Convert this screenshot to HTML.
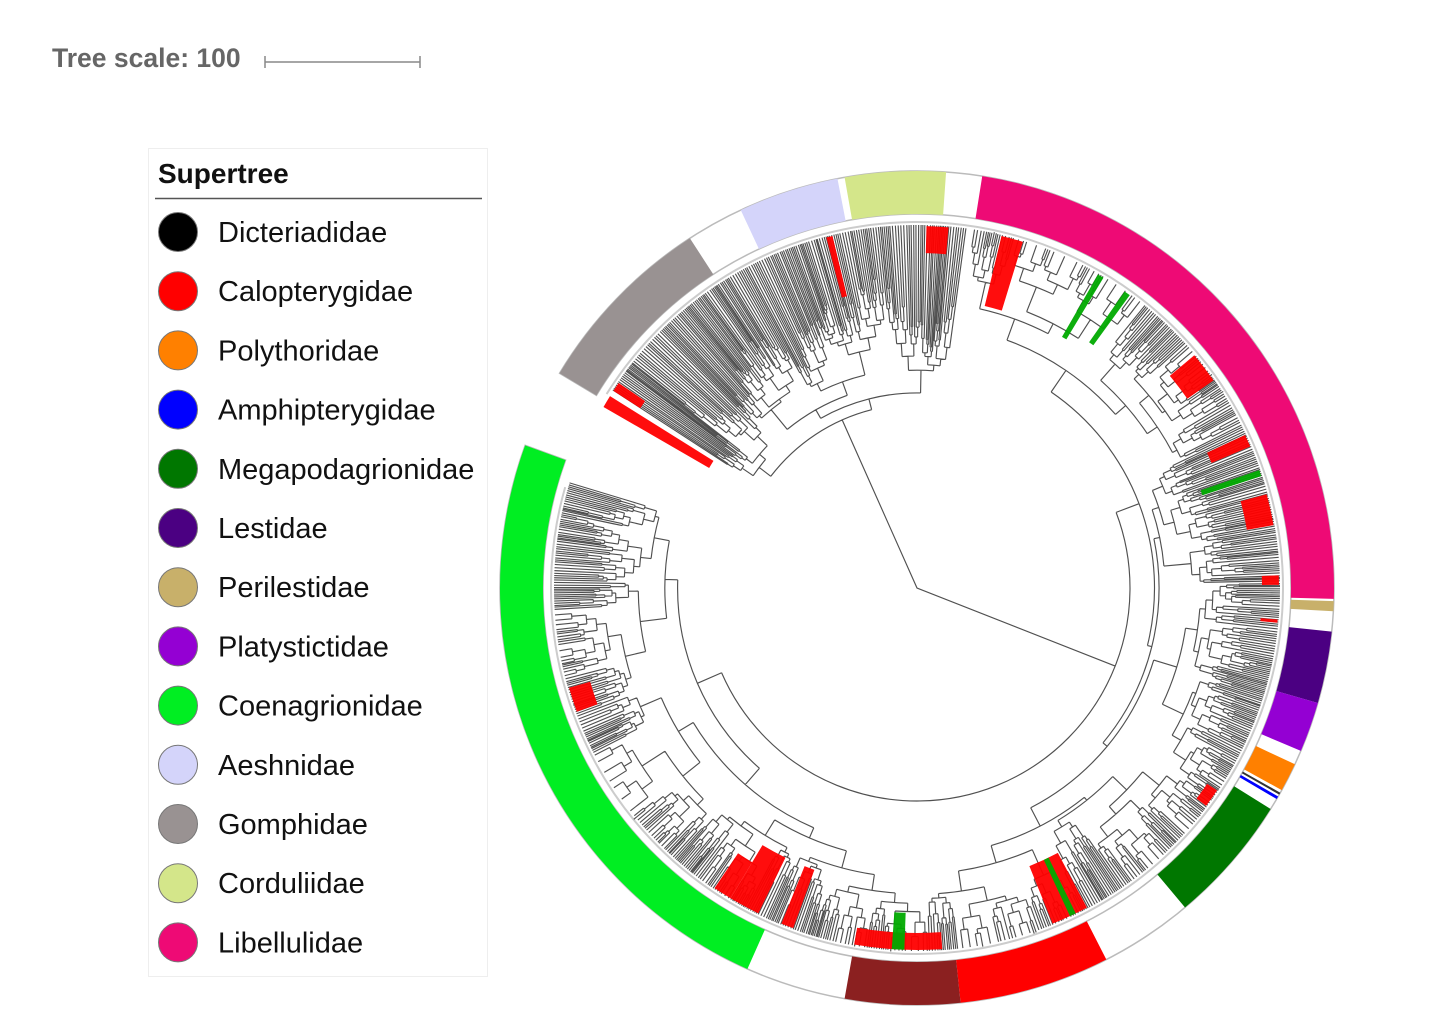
<!DOCTYPE html>
<html><head><meta charset="utf-8"><style>
html,body{margin:0;padding:0;background:#fff;}
body{width:1430px;height:1029px;position:relative;overflow:hidden;font-family:"Liberation Sans",sans-serif;}
</style></head><body>
<svg id="s" width="1430" height="1029" viewBox="0 0 1430 1029" xmlns="http://www.w3.org/2000/svg" style="position:absolute;left:0;top:0">
<text x="52" y="67" font-family="Liberation Sans" font-weight="bold" font-size="26.5" fill="#666">Tree scale: 100</text>
<g stroke="#888" stroke-width="1.5"><line x1="265" y1="62" x2="420" y2="62"/><line x1="265" y1="56" x2="265" y2="68"/><line x1="420" y1="56" x2="420" y2="68"/></g>
<rect x="148.5" y="148.5" width="339" height="828" fill="#fff" stroke="#eee"/>
<text x="158" y="183" font-family="Liberation Sans" font-weight="bold" font-size="28" fill="#111">Supertree</text>
<line x1="155" y1="198.5" x2="482" y2="198.5" stroke="#555" stroke-width="1.5"/>
<g id="leg" font-family="Liberation Sans" font-size="29" fill="#111"></g>
<g id="tree"></g>
</svg>
<script>
var NS="http://www.w3.org/2000/svg";
function el(p,n,a){var e=document.createElementNS(NS,n);for(var k in a)e.setAttribute(k,a[k]);p.appendChild(e);return e;}
var leg=document.getElementById('leg');
var L=[["Dicteriadidae","#000"],["Calopterygidae","#ff0000"],["Polythoridae","#ff8000"],["Amphipterygidae","#0000ff"],["Megapodagrionidae","#007700"],["Lestidae","#4b0082"],["Perilestidae","#c8b06a"],["Platystictidae","#9400d3"],["Coenagrionidae","#00ee22"],["Aeshnidae","#d4d4fa"],["Gomphidae","#999292"],["Corduliidae","#d4e68a"],["Libellulidae","#ee0a75"]];
L.forEach(function(d,i){var y=232+i*59.2;el(leg,'circle',{cx:178,cy:y,r:19.5,fill:d[1],stroke:'#777','stroke-width':1});var t=el(leg,'text',{x:218,y:y+10});t.textContent=d[0];});
var CX=917,CY=588,g=document.getElementById('tree');
function P(r,a){a=a*Math.PI/180;return [CX+r*Math.cos(a),CY+r*Math.sin(a)];}
function arc(r,a0,a1){var p=P(r,a0),q=P(r,a1);var lg=Math.abs(a1-a0)>180?1:0;return "M"+p[0]+" "+p[1]+" A"+r+" "+r+" 0 "+lg+" "+(a1>a0?1:0)+" "+q[0]+" "+q[1];}
function wedge(r0,r1,a0,a1){var p=P(r1,a0),q=P(r1,a1),s=P(r0,a1),t=P(r0,a0);var lg=(a1-a0)>180?1:0;return "M"+p[0]+" "+p[1]+" A"+r1+" "+r1+" 0 "+lg+" 1 "+q[0]+" "+q[1]+" L"+s[0]+" "+s[1]+" A"+r0+" "+r0+" 0 "+lg+" 0 "+t[0]+" "+t[1]+"Z";}
var R0=374,R1=417;
el(g,'path',{d:wedge(R0,R1,211,560),fill:'#fff',stroke:'#bbb','stroke-width':1.5});
var segs=[[-81,1.5,"#ee0a75"],[1.8,3.2,"#c8b06a"],[6,16,"#4b0082"],[16,23,"#9400d3"],[25,29,"#ff8000"],[30,30.4,"#0000ff"],[29.4,29.7,"#333"],[32,50,"#007700"],[63,84,"#ff0000"],[84,100,"#8b2020"],[114,200,"#00ee22"],[211,237,"#999292"],[245,259,"#d4d4fa"],[260,274,"#d4e68a"]];
segs.forEach(function(s){el(g,'path',{d:wedge(R0,R1,s[0],s[1]),fill:s[2]});});
el(g,'path',{d:arc(366,212,556),fill:'none',stroke:'#ccc','stroke-width':2});
var seed=11;function rnd(){seed=(seed*16807)%2147483647;return (seed-1)/2147483646;}
var paths=[];
function clade(a0,a1,r){var span=a1-a0;var mid=(a0+a1)/2;
 if(span<0.55||r>352){var p=P(r,mid),q=P(363,mid);paths.push("M"+p[0]+" "+p[1]+"L"+q[0]+" "+q[1]);return mid;}
 var f=0.2+0.6*rnd();var m=a0+span*f;
 var rA=r+3+rnd()*(span>20?26:12),rB=r+3+rnd()*(span>20?26:12);
 var ma=clade(a0,m,rA),mb=clade(m,a1,rB);
 var p=P(r,ma),q=P(rA,ma);paths.push("M"+p[0]+" "+p[1]+"L"+q[0]+" "+q[1]);
 p=P(r,mb);q=P(rB,mb);paths.push("M"+p[0]+" "+p[1]+"L"+q[0]+" "+q[1]);
 paths.push(arc(r,ma,mb));return (ma+mb)/2;}
var m1=clade(213,278,184);
var m2=clade(279,557,213);
paths.push(arc(184,Math.min(246,m1),Math.max(246,m1)));
paths.push(arc(213,Math.min(381.5,m2),Math.max(381.5,m2)));
var pr=P(184,246),pr2=P(213,21.5);
paths.push("M"+pr[0]+" "+pr[1]+"L"+CX+" "+CY+"L"+pr2[0]+" "+pr2[1]);
el(g,'path',{d:paths.join(" "),fill:'none',stroke:'#505050','stroke-width':1.15});
var hl=[[271.5,275,335,362,"#f00"],[283.5,287,290,362,"#f00"],[255.5,256.5,300,362,"#f00"],[210,212,240,362,"#f00"],[213,214.5,330,362,"#f00"],[320,325,330,362,"#f00"],[345,350,335,362,"#f00"],[335,337,320,362,"#f00"],[341,342,300,362,"#0a0"],[358,359.5,345,362,"#f00"],[5,5.5,345,362,"#f00"],[34,37,350,362,"#f00"],[62,68,300,362,"#f00"],[64,65,300,362,"#0a0"],[86,100,345,362,"#f00"],[92,94,325,362,"#0a0"],[116,121,300,362,"#f00"],[121,124,320,362,"#f00"],[110,112,300,362,"#f00"],[160,164,340,362,"#f00"],[300,301,290,362,"#0a0"],[305,306,300,362,"#0a0"]];
hl.forEach(function(h){el(g,'path',{d:wedge(h[2],h[3],h[0],h[1]),fill:h[4],opacity:0.95});});
</script>
</body></html>
